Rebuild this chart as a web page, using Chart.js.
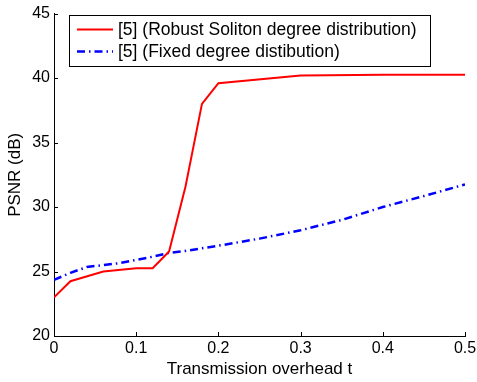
<!DOCTYPE html>
<html>
<head>
<meta charset="utf-8">
<script src="https://cdn.jsdelivr.net/npm/chart.js@4/dist/chart.umd.min.js"></script>
<style>
  html, body { margin: 0; padding: 0; background: #fff; }
  #wrap { width: 477px; height: 382px; }
</style>
</head>
<body>
<div id="wrap"><canvas id="chart" width="477" height="382"></canvas></div>
<script>
const seriesNames = ['[5] (Robust Soliton degree distribution)', '[5] (Fixed degree distibution)']
const robustT = [0, 0.02, 0.06, 0.1, 0.12, 0.14, 0.16, 0.18, 0.2, 0.3, 0.4, 0.5]
const robustPsnr = [23.0, 24.25, 25.0, 25.25, 25.25, 26.55, 31.6, 38.0, 39.6, 40.2, 40.25, 40.25]
const fixedT = [0, 0.02, 0.04, 0.06, 0.08, 0.1, 0.12, 0.14, 0.16, 0.2, 0.25, 0.3, 0.35, 0.4, 0.45, 0.5]
const fixedPsnr = [24.35, 24.9, 25.35, 25.5, 25.65, 25.9, 26.15, 26.45, 26.6, 27.0, 27.55, 28.2, 29.0, 30.0, 30.85, 31.75]
const xTicks = [0, 0.1, 0.2, 0.3, 0.4, 0.5]
const yTicks = [20, 25, 30, 35, 40, 45]

const font = 'Liberation Sans, Arial, sans-serif'
const toPoints = (xs, ys) => xs.map((x, i) => ({ x: x, y: ys[i] }))

// matlab style inward ticks on the left and bottom axes
const inwardTicks = {
    id: 'inwardTicks',
    afterDraw(chart) {
        const ctx = chart.ctx
        const { x, y } = chart.scales
        ctx.save()
        ctx.strokeStyle = '#000'
        ctx.lineWidth = 1
        ctx.beginPath()
        xTicks.forEach(v => {
            const px = Math.round(x.getPixelForValue(v)) + 0.5
            ctx.moveTo(px, y.bottom)
            ctx.lineTo(px, y.bottom - 4)
        })
        yTicks.forEach(v => {
            const py = Math.round(y.getPixelForValue(v)) + 0.5
            ctx.moveTo(x.left, py)
            ctx.lineTo(x.left + 4, py)
        })
        ctx.stroke()
        ctx.restore()
    }
}

const boxLegend = {
    id: 'boxLegend',
    afterDraw(chart) {
        const ctx = chart.ctx
        ctx.save()
        ctx.fillStyle = '#fff'
        ctx.fillRect(69.5, 15.5, 361, 51)
        ctx.strokeStyle = '#000'
        ctx.lineWidth = 1
        ctx.strokeRect(69.5, 15.5, 361, 51)
        const rows = [29.5, 51.5]
        chart.data.datasets.forEach((ds, i) => {
            ctx.beginPath()
            ctx.strokeStyle = ds.borderColor
            ctx.lineWidth = ds.borderWidth
            ctx.setLineDash(ds.borderDash || [])
            ctx.moveTo(77, rows[i])
            ctx.lineTo(113, rows[i])
            ctx.stroke()
            ctx.setLineDash([])
            ctx.fillStyle = '#000'
            ctx.font = '17.5px ' + font
            ctx.textBaseline = 'middle'
            ctx.fillText(ds.label, 118, rows[i] + 1)
        })
        ctx.restore()
    }
}

const ctx = document.getElementById('chart').getContext('2d')
new Chart(ctx, {
    type: 'line',
    data: {
        datasets: [
            {
                label: seriesNames[0],
                data: toPoints(robustT, robustPsnr),
                borderColor: '#ff0000',
                borderWidth: 2,
                pointRadius: 0,
                tension: 0,
                fill: false
            },
            {
                label: seriesNames[1],
                data: toPoints(fixedT, fixedPsnr),
                borderColor: '#0000ff',
                borderWidth: 2.5,
                borderDash: [8, 4, 1.5, 4],
                pointRadius: 0,
                tension: 0,
                fill: false
            }
        ]
    },
    options: {
        responsive: false,
        animation: false,
        devicePixelRatio: 1,
        layout: { padding: { top: 13, right: 12, left: 0, bottom: 0 } },
        plugins: {
            legend: { display: false },
            tooltip: { enabled: false }
        },
        scales: {
            x: {
                type: 'linear',
                min: 0,
                max: 0.5,
                afterBuildTicks: s => { s.ticks = xTicks.map(v => ({ value: v })) },
                afterFit: s => { s.height = 46; s.paddingLeft = 0; s.paddingRight = 0 },
                grid: { display: true, drawOnChartArea: false, drawTicks: false },
                border: { color: '#000', width: 1 },
                ticks: {
                    color: '#000',
                    font: { family: font, size: 16 },
                    padding: 3,
                    maxRotation: 0,
                    callback: v => String(v)
                },
                title: {
                    display: true,
                    text: 'Transmission overhead t',
                    color: '#000',
                    font: { family: font, size: 17 },
                    padding: { top: 0, bottom: 2 }
                }
            },
            y: {
                min: 20,
                max: 45,
                afterBuildTicks: s => { s.ticks = yTicks.map(v => ({ value: v })) },
                afterFit: s => { s.width = 54 },
                grid: { display: true, drawOnChartArea: false, drawTicks: false },
                border: { color: '#000', width: 1 },
                ticks: {
                    color: '#000',
                    font: { family: font, size: 16 },
                    padding: 4
                },
                title: {
                    display: true,
                    text: 'PSNR (dB)',
                    color: '#000',
                    font: { family: font, size: 17 },
                    padding: { top: 5, bottom: 0 }
                }
            }
        }
    },
    plugins: [inwardTicks, boxLegend]
})
</script>
</body>
</html>
